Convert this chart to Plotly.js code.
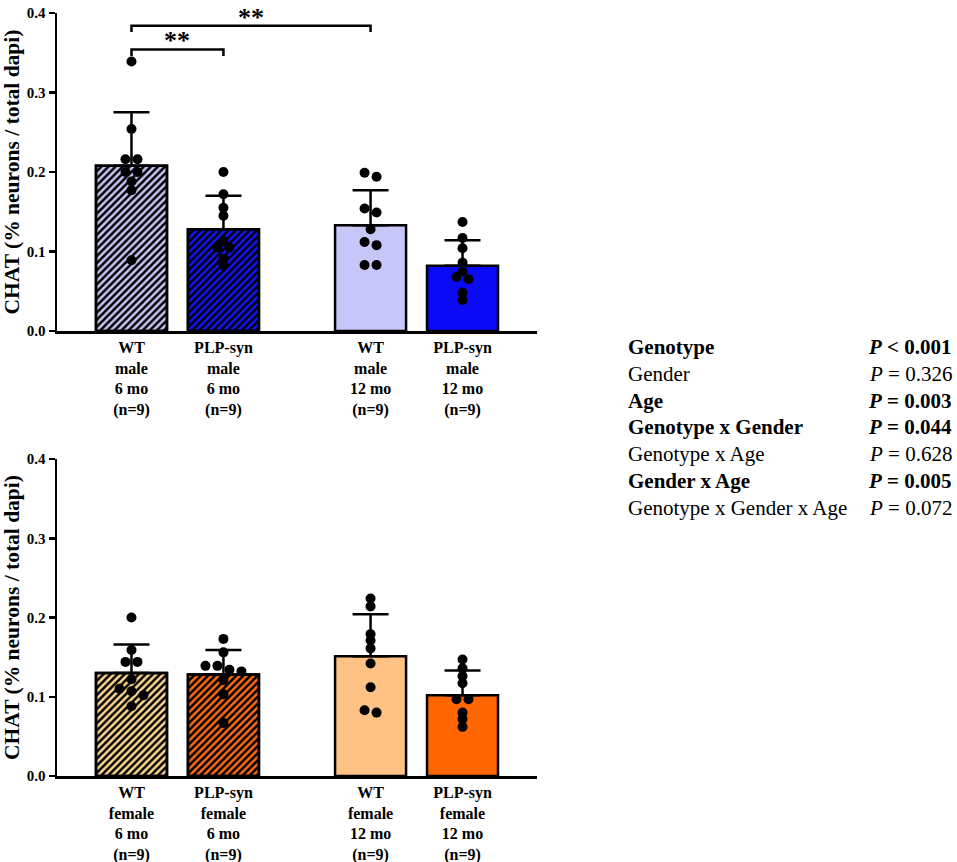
<html>
<head>
<meta charset="utf-8">
<script src="https://cdn.plot.ly/plotly-3.0.1.min.js"></script>
<style>
  body { margin: 0; background: #fff; }
  #chart { width: 957px; height: 862px; }
</style>
</head>
<body>
<div id="chart"></div>
<script>
// ---- data ----
var maleLabels = ['WT<br>male<br>6 mo<br>(n=9)', 'PLP-syn<br>male<br>6 mo<br>(n=9)',
                  'WT<br>male<br>12 mo<br>(n=9)', 'PLP-syn<br>male<br>12 mo<br>(n=9)'];
var femaleLabels = ['WT<br>female<br>6 mo<br>(n=9)', 'PLP-syn<br>female<br>6 mo<br>(n=9)',
                    'WT<br>female<br>12 mo<br>(n=9)', 'PLP-syn<br>female<br>12 mo<br>(n=9)'];

var maleMean = [0.208, 0.128, 0.133, 0.082];
var maleSD   = [0.067, 0.042, 0.044, 0.032];
var femaleMean = [0.130, 0.128, 0.151, 0.102];
var femaleSD   = [0.036, 0.031, 0.053, 0.031];

var maleWT6    = [0.339, 0.254, 0.216, 0.216, 0.200, 0.200, 0.188, 0.177, 0.089];
var malePLP6   = [0.200, 0.172, 0.155, 0.145, 0.113, 0.105, 0.105, 0.091, 0.083];
var maleWT12   = [0.199, 0.194, 0.154, 0.149, 0.128, 0.112, 0.108, 0.083, 0.083];
var malePLP12  = [0.137, 0.117, 0.104, 0.086, 0.075, 0.068, 0.065, 0.048, 0.039];
var femaleWT6   = [0.200, 0.159, 0.144, 0.144, 0.122, 0.110, 0.107, 0.102, 0.088];
var femalePLP6  = [0.173, 0.156, 0.139, 0.139, 0.134, 0.132, 0.121, 0.103, 0.067];
var femaleWT12  = [0.224, 0.214, 0.179, 0.171, 0.161, 0.142, 0.112, 0.083, 0.080];
var femalePLP12 = [0.147, 0.136, 0.126, 0.117, 0.097, 0.097, 0.080, 0.072, 0.062];

var statTerms = ['Genotype', 'Gender', 'Age', 'Genotype x Gender', 'Genotype x Age',
                 'Gender x Age', 'Genotype x Gender x Age'];
var statP     = ['< 0.001', '= 0.326', '= 0.003', '= 0.044', '= 0.628', '= 0.005', '= 0.072'];
var statSig   = [true, false, true, true, false, true, false];

// ---- layout helpers ----
var xPos = [0, 1, 2.6, 3.6];
var hatched = [true, true, false, false];   // 6 mo bars carry the stripes
var serif = "'Liberation Serif', 'Times New Roman', serif";
var W = 957, H = 862;

// spread dots of almost equal value side by side (like a scatter dot plot)
function spread(vals, center) {
  var pxY = 795, pxX = 92, gap = 5, step = 12;
  var xs = [], ys = [], row = [];
  function flush() {
    row.forEach(function (v, i) {
      xs.push(center + (i - (row.length - 1) / 2) * step / pxX);
      ys.push(v);
    });
    row = [];
  }
  vals.slice().sort(function (a, b) { return b - a; }).forEach(function (v) {
    if (row.length && (row[row.length - 1] - v) * pxY >= gap) flush();
    row.push(v);
  });
  flush();
  return { x: xs, y: ys };
}

function panel(means, sds, groups, fill, xa, ya) {
  var bar = {
    type: 'bar', x: xPos, y: means, width: 0.772, xaxis: xa, yaxis: ya,
    marker: { color: fill, line: { color: 'black', width: 2.5 } },
    error_y: { type: 'data', symmetric: false, array: sds, arrayminus: [0, 0, 0, 0],
               color: 'black', thickness: 2.5, width: 18 },
    hoverinfo: 'skip'
  };
  // black stripes laid over the 6 mo bars
  var hx = [], hy = [];
  xPos.forEach(function (x, i) { if (hatched[i]) { hx.push(x); hy.push(means[i]); } });
  var stripes = {
    type: 'bar', x: hx, y: hy, width: 0.772, xaxis: xa, yaxis: ya,
    marker: {
      color: 'black',
      line: { color: 'black', width: 2.5 },
      pattern: { shape: '/', fillmode: 'replace', fgcolor: 'black', bgcolor: 'rgba(0,0,0,0)',
                 fgopacity: 1, size: 5, solidity: 0.5 }
    },
    hoverinfo: 'skip'
  };
  var px = [], py = [];
  groups.forEach(function (g, i) {
    var s = spread(g, xPos[i]);
    px = px.concat(s.x); py = py.concat(s.y);
  });
  var dots = {
    type: 'scatter', mode: 'markers', x: px, y: py, xaxis: xa, yaxis: ya,
    marker: { color: 'black', size: 10 }, hoverinfo: 'skip'
  };
  return [bar, stripes, dots];
}

var data = panel(maleMean, maleSD, [maleWT6, malePLP6, maleWT12, malePLP12],
                 ['#c6c6f8', '#1414ff', '#c6c6f8', '#0a0af5'], 'x', 'y')
  .concat(panel(femaleMean, femaleSD, [femaleWT6, femalePLP6, femaleWT12, femalePLP12],
                ['#ffd890', '#ff6a10', '#ffc184', '#ff6600'], 'x2', 'y2'));

function xAxis(labels, anchor) {
  return {
    domain: [57 / W, 537 / W], range: [-0.81, 4.41], anchor: anchor,
    showline: true, linecolor: 'black', linewidth: 2.5, showgrid: false, zeroline: false,
    tickmode: 'array', tickvals: xPos, ticktext: labels, ticks: '',
    tickfont: { family: serif, size: 16, color: 'black', weight: 'bold' }, fixedrange: true
  };
}
function yAxis(top, bottom, anchor) {
  return {
    domain: [1 - bottom / H, 1 - top / H], range: [0, 0.4], anchor: anchor,
    showline: true, linecolor: 'black', linewidth: 2.5, showgrid: false, zeroline: false,
    tickmode: 'array', tickvals: [0, 0.1, 0.2, 0.3, 0.4], tickformat: '.1f',
    ticks: 'outside', ticklen: 6, tickwidth: 2.5, tickcolor: 'black',
    tickfont: { family: serif, size: 15, color: 'black', weight: 'bold' },
    title: { text: 'CHAT (% neurons / total dapi)', standoff: 4,
             font: { family: serif, size: 21.5, color: 'black', weight: 'bold' } },
    fixedrange: true
  };
}

var shapes = [
  { type: 'path', xref: 'x', yref: 'y', path: 'M 0 0.346 L 0 0.354 L 1 0.354 L 1 0.346',
    line: { color: 'black', width: 2.5 } },
  { type: 'path', xref: 'x', yref: 'y', path: 'M 0 0.376 L 0 0.384 L 2.6 0.384 L 2.6 0.376',
    line: { color: 'black', width: 2.5 } }
];

var annotations = [
  { xref: 'x', yref: 'y', x: 0.5, y: 0.366, text: '**', showarrow: false, yanchor: 'middle',
    font: { family: serif, size: 26, color: 'black', weight: 'bold' } },
  { xref: 'x', yref: 'y', x: 1.3, y: 0.394, text: '**', showarrow: false, yanchor: 'middle',
    font: { family: serif, size: 26, color: 'black', weight: 'bold' } }
];

var rowY = [347, 373.8, 400.6, 427.4, 454.2, 481, 507.8];
statTerms.forEach(function (t, i) {
  var f = { family: serif, size: 21, color: 'black' };
  var lbl = statSig[i] ? '<b>' + t + '</b>' : t;
  var pv = '<i>P</i> ' + statP[i].replace('<', '&lt;');
  if (statSig[i]) pv = '<b>' + pv + '</b>';
  annotations.push({ xref: 'paper', yref: 'paper', x: 626 / W, y: 1 - rowY[i] / H,
    xanchor: 'left', yanchor: 'middle', text: lbl, showarrow: false, font: f });
  annotations.push({ xref: 'paper', yref: 'paper', x: 954 / W, y: 1 - rowY[i] / H,
    xanchor: 'right', yanchor: 'middle', text: pv, showarrow: false, font: f });
});

var layout = {
  width: W, height: H,
  margin: { l: 0, r: 0, t: 0, b: 0 },
  paper_bgcolor: 'white', plot_bgcolor: 'white',
  showlegend: false,
  barmode: 'overlay',
  xaxis: xAxis(maleLabels, 'y'),
  yaxis: yAxis(13, 331, 'x'),
  xaxis2: xAxis(femaleLabels, 'y2'),
  yaxis2: yAxis(459, 776, 'x2'),
  shapes: shapes,
  annotations: annotations
};

Plotly.newPlot('chart', data, layout, { displayModeBar: false, staticPlot: true });
</script>
</body>
</html>
